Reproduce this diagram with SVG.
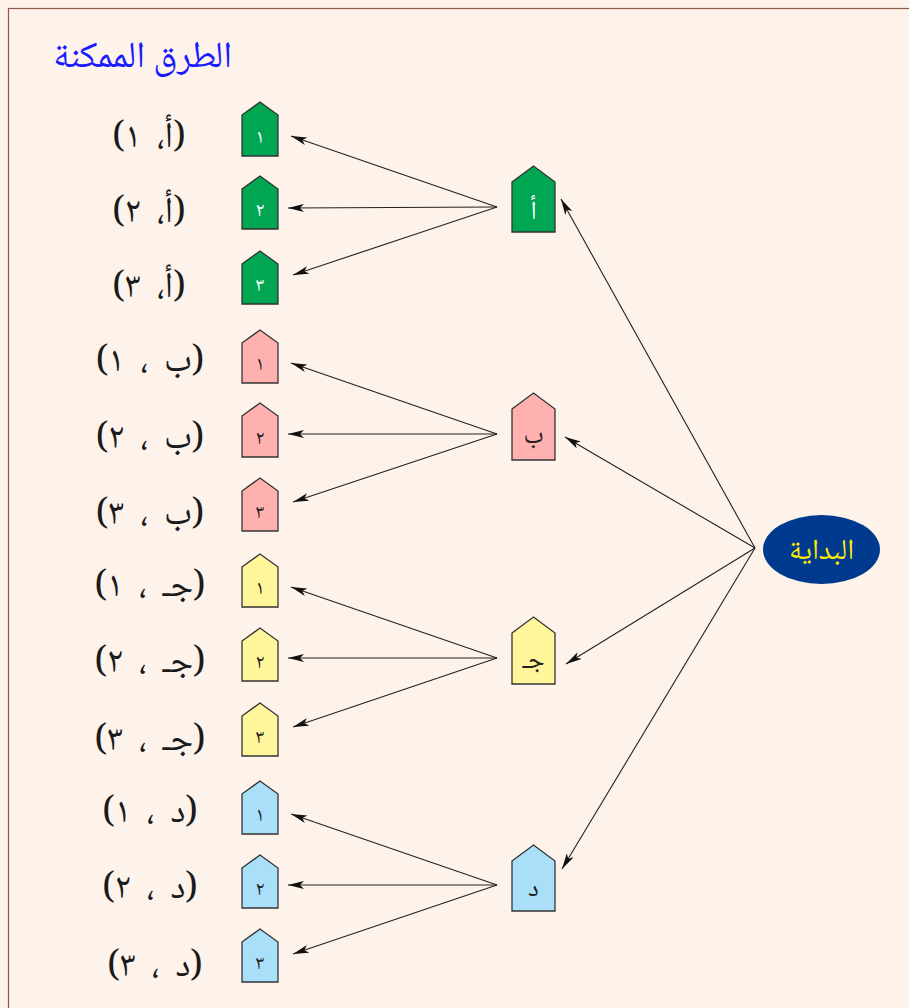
<svg xmlns="http://www.w3.org/2000/svg" width="909" height="1008" viewBox="0 0 909 1008">
<defs>
<marker id="ah" viewBox="0 0 16 8" refX="16" refY="4" markerWidth="16" markerHeight="8" markerUnits="userSpaceOnUse" orient="auto">
<path d="M0,0 L16,4 L0,8 L4,4 Z" fill="#111"/>
</marker>
<style>
.lbl{font-family:"Noto Naskh Arabic","DejaVu Serif","DejaVu Sans",serif;font-size:36px;fill:#1a1a1a;word-spacing:8px;}
.dg{font-family:"Noto Naskh Arabic","DejaVu Sans",sans-serif;font-size:20px;text-anchor:middle;}
.mid{font-family:"Noto Naskh Arabic","DejaVu Sans",sans-serif;font-size:26px;text-anchor:middle;}
.node{stroke:#333;stroke-width:1.3;}
.g{fill:#00a651;} .p{fill:#ffb1b0;} .y{fill:#fff59a;} .b{fill:#aadff9;}
.cn line{stroke:#222;stroke-width:1.1;marker-end:url(#ah);}
</style>
</defs>
<rect x="0" y="0" width="909" height="1008" fill="#fdf3ea"/>
<rect x="8.5" y="8.5" width="910" height="1010" fill="#fdf3ea" stroke="#8b5a4a" stroke-width="1.2"/>
<text x="232" y="67" direction="rtl" text-anchor="start" style="font-family:'Noto Naskh Arabic','DejaVu Sans',sans-serif;font-size:37px;fill:#1a1aff;">الطرق الممكنة</text>

<g class="cn" id="connectors">
<line x1="497" y1="207" x2="291" y2="136"/>
<line x1="497" y1="207" x2="288" y2="208"/>
<line x1="497" y1="207" x2="293" y2="275"/>
<line x1="497" y1="434" x2="291" y2="363"/>
<line x1="497" y1="434" x2="288" y2="434"/>
<line x1="497" y1="434" x2="293" y2="502"/>
<line x1="497" y1="658" x2="291" y2="587"/>
<line x1="497" y1="658" x2="288" y2="658"/>
<line x1="497" y1="658" x2="293" y2="727"/>
<line x1="497" y1="885" x2="291" y2="814"/>
<line x1="497" y1="885" x2="288" y2="885"/>
<line x1="497" y1="885" x2="293" y2="954"/>
<line x1="755" y1="548" x2="561" y2="199"/>
<line x1="755" y1="548" x2="565" y2="437"/>
<line x1="755" y1="548" x2="566" y2="664"/>
<line x1="755" y1="548" x2="562" y2="869"/>
</g>

<g id="start">
<ellipse cx="821.5" cy="549.5" rx="58.5" ry="34.5" fill="#003a8f"/>
<text x="821.5" y="559" text-anchor="middle" style="font-family:'Noto Naskh Arabic','DejaVu Sans',sans-serif;font-size:29px;fill:#ffec00;">البداية</text>
</g>

<g id="mid-a"><path class="node g" d="M512,182 L533.5,166 L555,182 L555,232 L512,232 Z"/><text class="mid" x="533.5" y="219" fill="#fff">أ</text></g>
<g id="mid-b"><path class="node p" d="M512,409 L533.5,393 L555,409 L555,460 L512,460 Z"/><text class="mid" x="533.5" y="443" fill="#222">ب</text></g>
<g id="mid-c"><path class="node y" d="M512,633 L533.5,617 L555,633 L555,684 L512,684 Z"/><text class="mid" x="533.5" y="668" fill="#222">جـ</text></g>
<g id="mid-d"><path class="node b" d="M512,861 L533.5,845 L555,861 L555,911 L512,911 Z"/><text class="mid" x="533.5" y="896" fill="#222">د</text></g>

<g id="a1"><path class="node g" d="M242,115 L260,102 L278,115 L278,156 L242,156 Z"/><text class="dg" x="260" y="143" fill="#fff">١</text></g>
<g id="a2"><path class="node g" d="M242,189 L260,176 L278,189 L278,229 L242,229 Z"/><text class="dg" x="260" y="216" fill="#fff">٢</text></g>
<g id="a3"><path class="node g" d="M242,264 L260,251 L278,264 L278,304 L242,304 Z"/><text class="dg" x="260" y="291" fill="#fff">٣</text></g>

<g id="b1"><path class="node p" d="M242,343 L260,330 L278,343 L278,383 L242,383 Z"/><text class="dg" x="260" y="370" fill="#222">١</text></g>
<g id="b2"><path class="node p" d="M242,416 L260,403 L278,416 L278,457 L242,457 Z"/><text class="dg" x="260" y="444" fill="#222">٢</text></g>
<g id="b3"><path class="node p" d="M242,491 L260,478 L278,491 L278,531 L242,531 Z"/><text class="dg" x="260" y="518" fill="#222">٣</text></g>

<g id="c1"><path class="node y" d="M242,567 L260,554 L278,567 L278,607 L242,607 Z"/><text class="dg" x="260" y="594" fill="#222">١</text></g>
<g id="c2"><path class="node y" d="M242,641 L260,628 L278,641 L278,681 L242,681 Z"/><text class="dg" x="260" y="668" fill="#222">٢</text></g>
<g id="c3"><path class="node y" d="M242,716 L260,703 L278,716 L278,756 L242,756 Z"/><text class="dg" x="260" y="743" fill="#222">٣</text></g>

<g id="d1"><path class="node b" d="M242,794 L260,781 L278,794 L278,834 L242,834 Z"/><text class="dg" x="260" y="821" fill="#222">١</text></g>
<g id="d2"><path class="node b" d="M242,868 L260,855 L278,868 L278,908 L242,908 Z"/><text class="dg" x="260" y="895" fill="#222">٢</text></g>
<g id="d3"><path class="node b" d="M242,942 L260,929 L278,942 L278,982 L242,982 Z"/><text class="dg" x="260" y="969" fill="#222">٣</text></g>

<g id="labels">
<text class="lbl" x="149" y="147" direction="rtl" text-anchor="middle">(أ، ١)</text>
<text class="lbl" x="149" y="222" direction="rtl" text-anchor="middle">(أ، ٢)</text>
<text class="lbl" x="149" y="297" direction="rtl" text-anchor="middle">(أ، ٣)</text>
<text class="lbl" x="150" y="371" direction="rtl" text-anchor="middle">(ب ، ١)</text>
<text class="lbl" x="150" y="448" direction="rtl" text-anchor="middle">(ب ، ٢)</text>
<text class="lbl" x="150" y="524" direction="rtl" text-anchor="middle">(ب ، ٣)</text>
<text class="lbl" x="150" y="596" direction="rtl" text-anchor="middle">(جـ ، ١)</text>
<text class="lbl" x="150" y="672" direction="rtl" text-anchor="middle">(جـ ، ٢)</text>
<text class="lbl" x="150" y="750" direction="rtl" text-anchor="middle">(جـ ، ٣)</text>
<text class="lbl" x="150" y="822" direction="rtl" text-anchor="middle">(د ، ١)</text>
<text class="lbl" x="150" y="898" direction="rtl" text-anchor="middle">(د ، ٢)</text>
<text class="lbl" x="155" y="976" direction="rtl" text-anchor="middle">(د ، ٣)</text>
</g>
</svg>
